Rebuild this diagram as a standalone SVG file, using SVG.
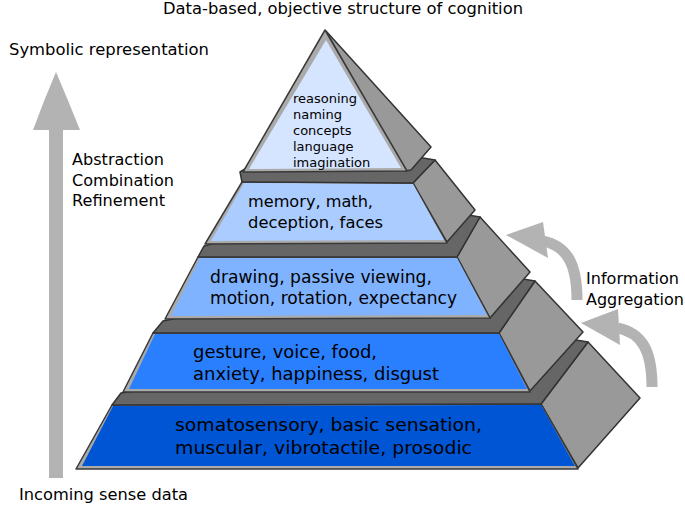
<svg xmlns="http://www.w3.org/2000/svg" width="685" height="511" viewBox="0 0 685 511">
<style>
text{font-family:"DejaVu Sans","Liberation Sans",sans-serif;fill:#000}
.lbl{font-size:16px}
.t1{font-size:18.5px}
.t2{font-size:18px}
.t3{font-size:17px}
.t4{font-size:16.5px}
.ts{font-size:13px}
.side{fill:#999;stroke:#333;stroke-width:1.5;stroke-linejoin:round}
.ledge{fill:#666;stroke:#333;stroke-width:1.5;stroke-linejoin:round}
.border{fill:#aaa;stroke:#3a3a3a;stroke-width:1.5;stroke-linejoin:round}
.arr{fill:#b3b3b3}
</style>
<rect width="685" height="511" fill="#fff"/>

<g id="connectors">
<g id="arrow-up">
<rect class="arr" x="49" y="128" width="14" height="350"/>
<path class="arr" d="M56,72 Q68,100 80,130 L33,130 Q44,100 56,72 Z"/>
</g>
<g id="arrow-agg-1">
<path d="M577,300 C577,262 566,246 543,241" fill="none" stroke="#b3b3b3" stroke-width="11"/>
<polygon class="arr" points="506,235 543,222 548,258"/>
</g>
<g id="arrow-agg-2">
<path d="M652,387 C652,349 641,333 618,328" fill="none" stroke="#b3b3b3" stroke-width="11"/>
<polygon class="arr" points="581,323 618,309 620,345"/>
</g>
</g>

<g id="tier1">
<polygon class="side" points="541,404 588,342 640,398 578,468"/>
<polygon class="border" points="112,405 541,404 578,469 76,469"/>
<polygon fill="#0055d4" points="113,406 541,405 575,466 82,466"/>
<polygon class="ledge" points="112,405 541,404 588,342 558,337 340,362 121,393"/>
<text class="t1" x="175" y="431" textLength="307" lengthAdjust="spacingAndGlyphs">somatosensory, basic sensation,</text>
<text class="t1" x="175" y="454" textLength="297" lengthAdjust="spacingAndGlyphs">muscular, vibrotactile, prosodic</text>
</g>

<g id="tier2">
<polygon class="side" points="499,333 535,281 583,332 530,391"/>
<polygon class="border" points="153,333 499,333 530,392 123,392"/>
<polygon fill="#2a7fff" points="155,334 499,334 527,389 129,389"/>
<polygon class="ledge" points="153,333 499,333 535,281 505,276 330,287 163,321"/>
<text class="t2" x="193" y="358" textLength="184" lengthAdjust="spacingAndGlyphs">gesture, voice, food,</text>
<text class="t2" x="193" y="380" textLength="246" lengthAdjust="spacingAndGlyphs">anxiety, happiness, disgust</text>
</g>

<g id="tier3">
<polygon class="side" points="457,257 480,217 530,272 490,318"/>
<polygon class="border" points="198,257 457,257 490,318 165,319"/>
<polygon fill="#80b3ff" points="200,258 457,258 487,315 171,316"/>
<polygon class="ledge" points="198,257 457,257 480,217 450,212 330,212 204,246"/>
<text class="t3" x="210" y="283" textLength="222" lengthAdjust="spacingAndGlyphs">drawing, passive viewing,</text>
<text class="t3" x="210" y="304" textLength="247" lengthAdjust="spacingAndGlyphs">motion, rotation, expectancy</text>
</g>

<g id="tier4">
<polygon class="side" points="413,183 435,160 475,210 447,242"/>
<polygon class="border" points="242,182 413,183 447,243 205,244"/>
<polygon fill="#aaccff" points="244,183 413,184 444,240 211,241"/>
<polygon class="ledge" points="242,182 413,183 435,160 405,155 325,120 240,172"/>
<text class="t4" x="248" y="207" textLength="125" lengthAdjust="spacingAndGlyphs">memory, math,</text>
<text class="t4" x="248" y="228" textLength="135" lengthAdjust="spacingAndGlyphs">deception, faces</text>
</g>

<g id="tier5">
<polygon class="side" points="326,31 431,147 411,170 405,171"/>
<polygon class="border" points="325,30 407,171 243,172"/>
<polygon fill="#d5e5ff" points="326,40 401,168 249,169"/>
<text class="ts" x="293" y="103">reasoning</text>
<text class="ts" x="293" y="119">naming</text>
<text class="ts" x="293" y="135">concepts</text>
<text class="ts" x="293" y="151">language</text>
<text class="ts" x="293" y="167">imagination</text>
</g>

<g id="labels">
<text class="lbl" x="163" y="14" textLength="360" lengthAdjust="spacingAndGlyphs">Data-based, objective structure of cognition</text>
<text class="lbl" x="9" y="55" textLength="200" lengthAdjust="spacingAndGlyphs">Symbolic representation</text>
<text class="lbl" x="72" y="165" textLength="92" lengthAdjust="spacingAndGlyphs">Abstraction</text>
<text class="lbl" x="72" y="186" textLength="102" lengthAdjust="spacingAndGlyphs">Combination</text>
<text class="lbl" x="72" y="206" textLength="93" lengthAdjust="spacingAndGlyphs">Refinement</text>
<text class="lbl" x="19" y="500" textLength="169" lengthAdjust="spacingAndGlyphs">Incoming sense data</text>
<text class="lbl" x="586" y="284" textLength="93" lengthAdjust="spacingAndGlyphs">Information</text>
<text class="lbl" x="586" y="305">Aggregation</text>
</g>
</svg>
